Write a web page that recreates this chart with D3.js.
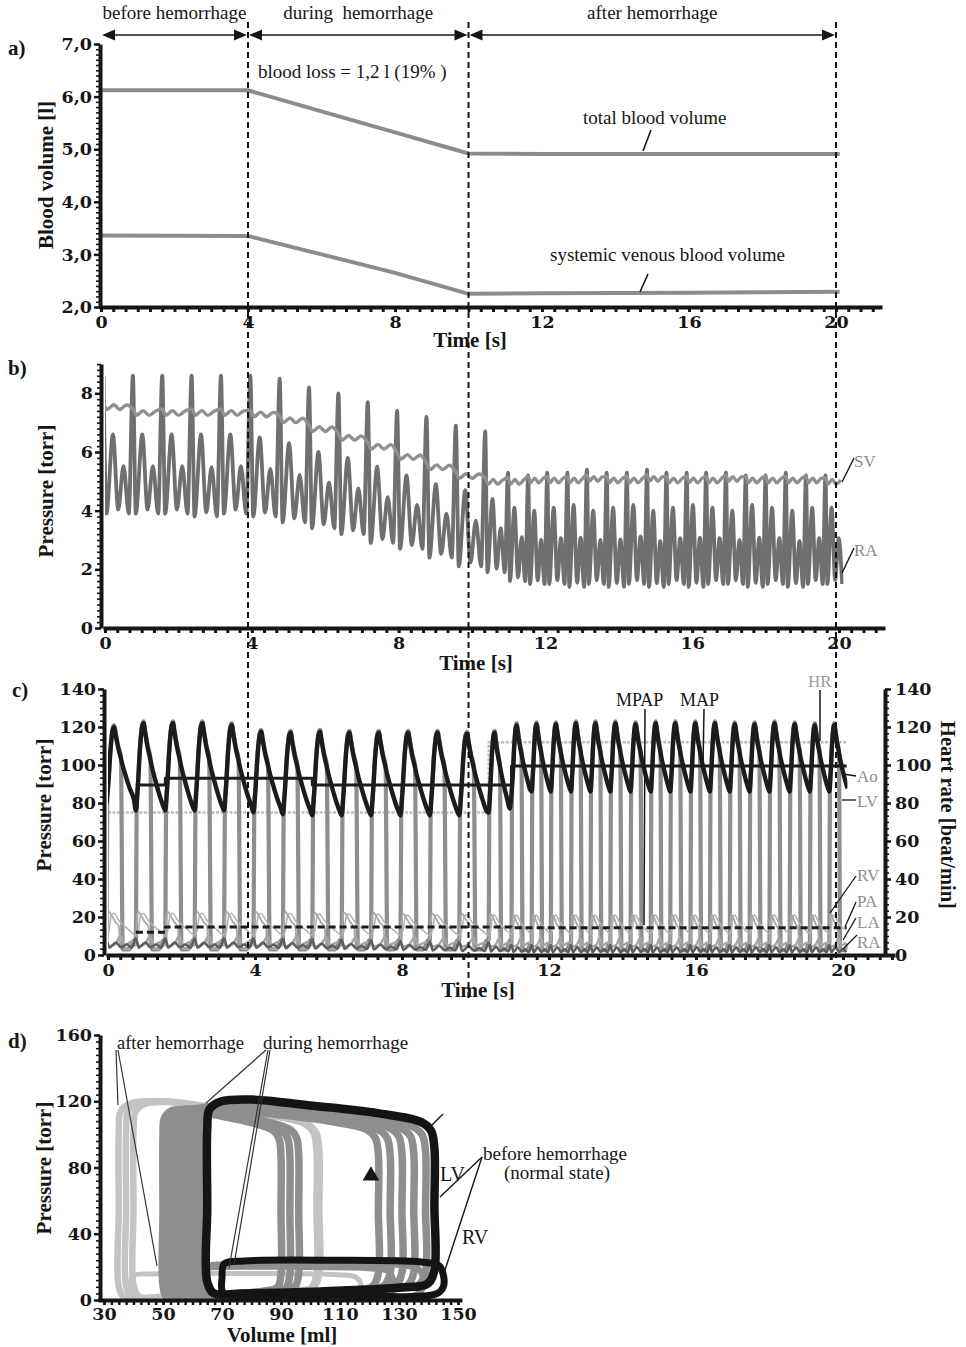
<!DOCTYPE html>
<html>
<head>
<meta charset="utf-8">
<script src="https://cdn.jsdelivr.net/npm/d3@7"></script>
<style>html,body{margin:0;padding:0;background:#fff;}svg{display:block;}</style>
</head>
<body>
<script>
// ======================= DATA =======================
const phaseBounds = [0, 4, 10, 20];
const phaseLabels = ["before hemorrhage", "during  hemorrhage", "after hemorrhage"];
const timeTicks = [0, 4, 8, 12, 16, 20];

// a) blood volume [l]
const volTime   = [0, 4, 6, 8, 10, 12, 16, 20.1];
const totalVol  = [6.12, 6.12, 5.72, 5.32, 4.92, 4.91, 4.91, 4.91];
const venousVol = [3.36, 3.35, 3.00, 2.65, 2.25, 2.26, 2.27, 2.29];
const volTicks  = [2, 3, 4, 5, 6, 7];

// beat onsets [s] (read from the RA spikes / aortic upstrokes)
const beatOnset = [-0.04, 0.76, 1.56, 2.36, 3.16, 3.96, 4.76, 5.56, 6.36, 7.16, 7.96, 8.76, 9.56,
  10.36, 10.98, 11.53, 12.05, 12.6, 13.13, 13.67, 14.22, 14.77, 15.3, 15.85, 16.38, 16.92, 17.46,
  18.0, 18.55, 19.1, 19.63];

// b) venous pressures [torr], per beat
const raSpike  = [8.6, 8.6, 8.6, 8.6, 8.6, 8.6, 8.5, 8.2, 8.0, 7.7, 7.4, 7.2, 6.9, 6.7,
  5.3, 5.2, 5.3, 5.3, 5.4, 5.3, 5.3, 5.4, 5.3, 5.3, 5.3, 5.3, 5.2, 5.2, 5.3, 5.2, 5.2];
const raHump   = [6.6, 6.6, 6.6, 6.6, 6.6, 6.5, 6.3, 6.0, 5.8, 5.5, 5.2, 4.9, 4.7, 4.4,
  4.1, 4.0, 4.1, 4.2, 4.0, 4.1, 4.2, 4.0, 4.1, 4.2, 4.1, 4.0, 4.2, 4.1, 4.0, 4.1, 4.1];
const raTrough = [3.9, 3.9, 3.9, 3.8, 3.9, 3.8, 3.6, 3.4, 3.2, 2.9, 2.7, 2.4, 2.1, 1.9,
  1.6, 1.5, 1.5, 1.4, 1.5, 1.4, 1.5, 1.4, 1.5, 1.4, 1.5, 1.5, 1.4, 1.5, 1.4, 1.5, 1.5];
const svMean   = [7.55, 7.35, 7.35, 7.35, 7.35, 7.3, 7.1, 6.8, 6.5, 6.2, 5.85, 5.5, 5.2, 5.0,
  5.0, 5.05, 5.05, 5.05, 5.1, 5.05, 5.05, 5.1, 5.05, 5.05, 5.05, 5.1, 5.05, 5.05, 5.05, 5.05, 5.0];
const bTicks = [0, 2, 4, 6, 8];

// c) arterial / cardiac pressures [torr], per beat
const aoPeak   = [120, 122, 122, 122, 121, 117.5, 117, 117.5, 117, 117, 117, 117, 116.5, 117,
  121, 121.5, 121.5, 122, 122, 122, 121.5, 122, 122, 122, 122, 121.5, 121.5, 122, 121.5, 121, 121];
const aoTrough = [80, 76, 76, 76, 76, 75, 74, 73.5, 73.5, 73.5, 73.5, 73.5, 73.5, 75,
  85, 86, 86, 86, 86, 86, 86, 86, 86, 86, 86, 86, 86, 86, 86, 86, 86];
const lvEdp    = [8, 8, 8, 8, 8, 8, 8, 8, 8, 8, 8, 8, 8, 8,
  6, 6, 6, 6, 6, 6, 6, 6, 6, 6, 6, 6, 6, 6, 6, 6, 6];
const lvMin    = [3, 3, 3, 3, 3, 3, 3, 3, 3, 3, 3, 3, 3, 3,
  2.5, 2.5, 2.5, 2.5, 2.5, 2.5, 2.5, 2.5, 2.5, 2.5, 2.5, 2.5, 2.5, 2.5, 2.5, 2.5, 2.5];
const rvPeak   = [23, 23, 23, 23, 23, 23, 23, 22.5, 22.5, 22.5, 22, 22, 22, 22,
  21.5, 21.5, 21.5, 21.5, 21.5, 21.5, 21.5, 21.5, 21.5, 21.5, 21.5, 21.5, 21.5, 21.5, 21.5, 21.5, 21.5];
const paPeak   = [22, 22, 22, 22, 22, 22, 22, 21.5, 21.5, 21.5, 21, 21, 21, 21,
  21, 21, 21, 21, 21, 21, 21, 21, 21, 21, 21, 21, 21, 21, 21, 21, 21];
const paLow    = [10.5, 10.5, 10.5, 10.5, 10.5, 10.5, 10.5, 10.5, 10.5, 10.5, 10.5, 10.5, 10.5, 10.5,
  11, 11, 11, 11, 11, 11, 11, 11, 11, 11, 11, 11, 11, 11, 11, 11, 11];
const laPeak   = [10, 10, 10, 10, 10, 10, 10, 9.5, 9.5, 9.5, 9.5, 9, 9, 9,
  9, 9, 9, 9, 9, 9, 9, 9, 9, 9, 9, 9, 9, 9, 9, 9, 9];
const hrTime = [0, 10.36, 20.1];
const hrVal  = [75, 112, 112];
const mapTime = [0.76, 1.56, 5.56, 10.98, 20.1];
const mapVal  = [89.5, 93, 89.5, 99.5, 99.5];
const mpapTime = [0.76, 1.56, 10.98, 20.1];
const mpapVal  = [12, 14.8, 14.3, 14.3];
const cTicks = [0, 20, 40, 60, 80, 100, 120, 140];

// within-beat shapes: [phase of beat, fraction between the beat's low and high value]
const aoShape = [[0, 0], [0.06, 0.25], [0.14, 0.72], [0.21, 0.96], [0.26, 1], [0.31, 0.9],
  [0.4, 0.72], [0.5, 0.57], [0.53, 0.52], [0.65, 0.36], [0.8, 0.18], [0.93, 0.05]];
const lvShape = [[0, "edp"], [0.025, "ao"], [0.06, "ao"], [0.14, "ao"], [0.21, "ao"], [0.26, "ao"],
  [0.31, "ao"], [0.4, "ao"], [0.49, "ao"], [0.55, "min"], [0.78, "min"], [0.95, "edp"]];
const raShape = [[0, "spike"], [0.1, 0], [0.32, 1], [0.5, 0.05], [0.68, 0.6], [0.86, 0]];
const svShape = [[0, 0.12], [0.12, -0.1], [0.35, 0.06], [0.55, -0.1], [0.78, 0.05]]; // offsets [torr]
const rvShape = [[0, 0.1], [0.02, 0.6], [0.06, 1], [0.3, 0.72], [0.42, 0.6], [0.47, 0.05], [0.8, 0], [0.95, 0.1]];
const paShape = [[0, 0], [0.08, 0.2], [0.16, 0.9], [0.24, 1], [0.46, 0.6], [0.5, 0.55], [0.75, 0.25]];
const laShape = [[0, 0.4], [0.1, 0.1], [0.3, 0.3], [0.48, 1], [0.6, 0.2], [0.85, 0.5]];

// d) pressure-volume loops
const lvLoopPhase = ["after", "after", "after", "during", "during", "during", "during", "during",
  "during", "during", "during", "before"];
const lvESV  = [35, 37.5, 40, 50, 51.5, 53, 55, 57, 59, 61, 63, 65];
const lvEDV  = [102, 102.5, 103, 90, 93, 96, 123, 127, 131, 135, 139, 142];
const lvPmax = [120, 120, 119.5, 115, 115, 115.5, 116, 116, 117, 117, 118, 121];
const lvPmin = [1, 1.5, 2, 2, 2, 2.5, 2.5, 3, 3, 3, 3.5, 4];
const rvLoopPhase = ["after", "during", "during", "before"];
const rvESV  = [39, 56, 64, 70];
const rvEDV  = [117, 128, 138, 145];
const rvPmax = [16, 20, 22, 24];
const rvPmin = [1, 1.5, 2, 2.5];
const lvLoopShape = [[0, 0.06], [0.03, 0], [0.15, 0], [0.5, 0.01], [0.85, 0.03], [0.97, 0.05], [1, 0.12],
  [1, 0.45], [1, 0.75], [0.985, 0.84], [0.94, 0.885], [0.75, 0.93], [0.45, 0.97], [0.2, 1], [0.06, 0.99],
  [0.01, 0.95], [0, 0.85], [0, 0.45]];
const rvLoopShape = [[0, 0.15], [0.02, 0], [0.5, 0.02], [0.97, 0.06], [1, 0.25], [1, 0.6], [0.98, 0.85],
  [0.9, 0.95], [0.5, 1], [0.1, 0.98], [0.01, 0.9], [0, 0.5]];
const volTicksD = [30, 50, 70, 90, 110, 130, 150];
const presTicksD = [0, 40, 80, 120, 160];

// ======================= SETUP =======================
const SERIF = "'Liberation Serif','Times New Roman',serif";
const TICKF = "'DejaVu Serif','Liberation Serif',serif";
const INK = "#161616";
const TFS = 17.5;
const svg = d3.select("body").append("svg").attr("width", 966).attr("height", 1347);

const xA = d3.scaleLinear().domain([0, 20]).range([101, 836]);
const yA = d3.scaleLinear().domain([2, 7]).range([307, 44]);
const xB = d3.scaleLinear().domain([0, 20]).range([105, 839]);
const yB = d3.scaleLinear().domain([0, 9]).range([628, 364]);
const xC = d3.scaleLinear().domain([0, 20]).range([108, 843]);
const yC = d3.scaleLinear().domain([0, 140]).range([955, 689]);
const xD = d3.scaleLinear().domain([30, 150]).range([104, 458]);
const yD = d3.scaleLinear().domain([0, 160]).range([1300, 1035]);

function txt(x, y, s, o = {}) {
  const t = svg.append("text").attr("x", x).attr("y", y).text(s)
    .attr("font-family", o.ff || SERIF).attr("font-size", o.fs || 19)
    .attr("font-weight", o.fw || "normal").attr("fill", o.fill || INK)
    .attr("text-anchor", o.anchor || "start").style("white-space", "pre");
  if (o.rot) t.attr("transform", `rotate(${o.rot},${x},${y})`);
  return t;
}
function seg(x1, y1, x2, y2, c = INK, w = 1.5) {
  svg.append("line").attr("x1", x1).attr("y1", y1).attr("x2", x2).attr("y2", y2)
    .attr("stroke", c).attr("stroke-width", w);
}
function styleAxis(a, fs = TFS) {
  a.select(".domain").attr("stroke", INK).attr("stroke-width", 4);
  a.selectAll(".tick line").attr("stroke", INK).attr("stroke-width", 2.5);
  a.selectAll(".tick text").attr("font-family", TICKF).attr("font-weight", "bold")
    .attr("font-size", fs).attr("fill", INK);
}
function xAxis(xs, yPos, xEnd, ticks, step, fmt) {
  const d0 = xs.domain()[0];
  const ext = xs.copy().domain([xs.invert(xs(d0) - 2), xs.invert(xEnd)]).range([xs(d0) - 2, xEnd]);
  const minor = d3.range(d0, xs.invert(xEnd), step);
  const gm = svg.append("g").attr("transform", `translate(0,${yPos})`)
    .call(d3.axisBottom(ext).tickValues(minor).tickFormat("").tickSize(5).tickSizeOuter(0));
  styleAxis(gm);
  gm.selectAll(".tick line").attr("stroke-width", 3);
  const g = svg.append("g").attr("transform", `translate(0,${yPos})`)
    .call(d3.axisBottom(xs).tickValues(ticks).tickFormat(fmt || (d => d)).tickSize(5).tickSizeOuter(0).tickPadding(4));
  styleAxis(g);
  g.select(".domain").remove();
}
function yAxis(ys, xPos, ticks, step, fmt, right = false) {
  const dom = ys.domain();
  const minor = d3.range(dom[0], dom[1] + 1e-6, step);
  const mk = right ? d3.axisRight : d3.axisLeft;
  const gm = svg.append("g").attr("transform", `translate(${xPos},0)`)
    .call(mk(ys).tickValues(minor).tickFormat("").tickSize(4).tickSizeOuter(0));
  styleAxis(gm);
  gm.selectAll(".tick line").attr("stroke-width", 1.6);
  const g = svg.append("g").attr("transform", `translate(${xPos},0)`)
    .call(mk(ys).tickValues(ticks).tickFormat(fmt || (d => d)).tickSize(6).tickSizeOuter(0).tickPadding(right ? 4 : 2));
  styleAxis(g);
  g.select(".domain").remove();
}
function clipRect(id, x0, x1) {
  svg.append("clipPath").attr("id", id).append("rect").attr("x", x0).attr("y", 0).attr("width", x1 - x0).attr("height", 1347);
  return `url(#${id})`;
}
function beatSeries(shapeFn) {
  const pts = [];
  beatOnset.forEach((t0, i) => {
    const tNext = i < beatOnset.length - 1 ? beatOnset[i + 1] : 2 * beatOnset[i] - beatOnset[i - 1];
    const T = tNext - t0;
    shapeFn(i).forEach(([ph, v]) => pts.push([t0 + ph * T, v]));
  });
  return pts;
}
const aoFrac = d3.scaleLinear().domain(aoShape.map(d => d[0])).range(aoShape.map(d => d[1]));
const aoSeries = beatSeries(i => aoShape.map(([p, f]) => [p, aoTrough[i] + f * (aoPeak[i] - aoTrough[i])]));
const lvSeries = beatSeries(i => lvShape.map(([p, k]) => [p,
  k === "edp" ? lvEdp[i] : k === "min" ? lvMin[i] : aoTrough[i] + aoFrac(p) * (aoPeak[i] - aoTrough[i]) + 1]));
const raSeries = beatSeries(i => raShape.map(([p, k]) => [p,
  k === "spike" ? raSpike[i] : raTrough[i] + k * (raHump[i] - raTrough[i])]));
const svSeries = beatSeries(i => svShape.map(([p, o]) => [p, svMean[i] + o]));
const rvSeries = beatSeries(i => rvShape.map(([p, f]) => [p, lvMin[i] + f * (rvPeak[i] - lvMin[i])]));
const paSeries = beatSeries(i => paShape.map(([p, f]) => [p, paLow[i] + f * (paPeak[i] - paLow[i])]));
const laSeries = beatSeries(i => laShape.map(([p, f]) => [p, 4 + f * (laPeak[i] - 4)]));

// ======================= HEADER =======================
phaseLabels.forEach((lab, i) => {
  const x0 = xA(phaseBounds[i]), x1 = xA(phaseBounds[i + 1]);
  txt((x0 + x1) / 2, 19, lab, { anchor: "middle", fs: 19 });
  seg(x0 + 4, 35, x1 - 4, 35, INK, 1.6);
  svg.append("path").attr("d", `M${x0 + 1},35 L${x0 + 14},29.5 L${x0 + 14},40.5Z`).attr("fill", INK);
  svg.append("path").attr("d", `M${x1 - 1},35 L${x1 - 14},29.5 L${x1 - 14},40.5Z`).attr("fill", INK);
});

// ======================= PANEL A =======================
txt(8, 55, "a)", { fw: "bold", fs: 21 });
const lineA = d3.line().x((d, i) => xA(volTime[i])).y(d => yA(d));
svg.append("path").attr("d", lineA(totalVol)).attr("fill", "none").attr("stroke", "#8b8b8b").attr("stroke-width", 4);
svg.append("path").attr("d", lineA(venousVol)).attr("fill", "none").attr("stroke", "#8b8b8b").attr("stroke-width", 4);
yAxis(yA, 100, volTicks, 0.1, d => d.toFixed(1).replace(".", ","));
xAxis(xA, 307, 882, timeTicks, 1 / 3);
txt(53, 175, "Blood volume [l]", { fw: "bold", fs: 21, anchor: "middle", rot: -90 });
txt(470, 347, "Time [s]", { fw: "bold", fs: 21, anchor: "middle" });
txt(258, 78, "blood loss = 1,2 l (19% )", { fs: 19 });
txt(583, 124, "total blood volume", { fs: 19 });
seg(651, 130, 643, 151, INK, 1.6);
txt(550, 261, "systemic venous blood volume", { fs: 19 });
seg(648, 274, 640, 292, INK, 1.6);

// ======================= PANEL B =======================
txt(8, 375, "b)", { fw: "bold", fs: 21 });
const clipB = clipRect("cb", xB(0), xB(20.12));
const lineB = d3.line().x(d => xB(d[0])).y(d => yB(d[1])).curve(d3.curveMonotoneX);
svg.append("path").attr("d", lineB(raSeries)).attr("clip-path", clipB).attr("fill", "none")
  .attr("stroke", "#6f6f6f").attr("stroke-width", 3.8).attr("stroke-linejoin", "round");
svg.append("path").attr("d", lineB(svSeries)).attr("clip-path", clipB).attr("fill", "none")
  .attr("stroke", "#8f8f8f").attr("stroke-width", 3.4).attr("stroke-linejoin", "round");
yAxis(yB, 101, bTicks, 0.2);
xAxis(xB, 628, 885, timeTicks, 1 / 3);
txt(53, 491, "Pressure [torr]", { fw: "bold", fs: 21, anchor: "middle", rot: -90 });
txt(476, 670, "Time [s]", { fw: "bold", fs: 21, anchor: "middle" });
txt(854, 467, "SV", { fs: 17, fill: "#8a8a8a" });
seg(842, 482, 854, 458, INK, 1.4);
txt(854, 556, "RA", { fs: 17, fill: "#8a8a8a" });
seg(842, 573, 854, 548, INK, 1.4);

// ======================= PANEL C =======================
txt(12, 697, "c)", { fw: "bold", fs: 21 });
const clipC = clipRect("cc", xC(0), xC(20.12));
const lineC = d3.line().x(d => xC(d[0])).y(d => yC(d[1])).curve(d3.curveMonotoneX);
const stepC = d3.line().x(d => xC(d[0])).y(d => yC(d[1])).curve(d3.curveStepAfter);
function drawC(series, color, w, gen = lineC, dash = null) {
  const p = svg.append("path").attr("d", gen(series)).attr("clip-path", clipC).attr("fill", "none")
    .attr("stroke", color).attr("stroke-width", w).attr("stroke-linejoin", "round");
  if (dash) p.attr("stroke-dasharray", dash);
}
drawC(hrTime.map((t, i) => [t, hrVal[i]]), "#bdbdbd", 2.6, stepC, "3,1.5");
drawC(lvSeries, "#8e8e8e", 4.2);
drawC(paSeries, "#b5b5b5", 1.6);
drawC(rvSeries, "#a8a8a8", 1.8);
drawC(laSeries, "#a5a5a5", 2.4);
drawC(raSeries, "#5e5e5e", 2.6);
drawC(aoSeries, "#1c1c1c", 4.4);
drawC(mapTime.map((t, i) => [t, mapVal[i]]), "#1c1c1c", 3, stepC);
drawC(mpapTime.map((t, i) => [t, mpapVal[i]]), "#1c1c1c", 3, stepC, "7,4");
yAxis(yC, 104, cTicks, 10 / 3);
yAxis(yC, 885, cTicks, 10 / 3, null, true);
xAxis(xC, 955, 895, timeTicks, 1 / 3);
txt(51, 805, "Pressure [torr]", { fw: "bold", fs: 21, anchor: "middle", rot: -90 });
txt(941, 815, "Heart rate [beat/min]", { fw: "bold", fs: 20.5, anchor: "middle", rot: 90 });
txt(478, 997, "Time [s]", { fw: "bold", fs: 21, anchor: "middle" });
txt(616, 706, "MPAP", { fs: 18 });
seg(645, 709, 644, 925, INK, 1.5);
txt(680, 706, "MAP", { fs: 18 });
seg(704, 709, 703, 766, INK, 1.5);
txt(808, 687, "HR", { fs: 17, fill: "#9a9a9a" });
seg(820, 690, 820, 741, INK, 1.5);
const cLabels = [["Ao", 782, 843, 774, 856, 776], ["LV", 807, 842, 800, 856, 800], ["RV", 881, 830, 913, 856, 876],
  ["PA", 907, 845, 927, 856, 902], ["LA", 928, 843, 940, 856, 918], ["RA", 948, 843, 949, 857, 935]];
cLabels.forEach(([s, y, x1, y1, x2, y2]) => {
  txt(857, y, s, { fs: 17, fill: "#8f8f8f" });
  seg(x1, y1, x2, y2, INK, 1.3);
});

// ======================= PANEL D =======================
txt(8, 1048, "d)", { fw: "bold", fs: 21 });
const loopColor = { after: "#c3c3c3", during: "#8e8e8e", before: "#141414" };
const loopWidth = { after: 6.5, during: 7.5, before: 8.5 };
const loopLine = d3.line().x(d => xD(d[0])).y(d => yD(d[1])).curve(d3.curveCatmullRomClosed.alpha(0.5));
function drawLoops(phases, esv, edv, pmax, pmin, shape, which) {
  phases.forEach((ph, i) => {
    if (ph !== which) return;
    const pts = shape.map(([u, w]) => [esv[i] + u * (edv[i] - esv[i]), pmin[i] + w * (pmax[i] - pmin[i])]);
    svg.append("path").attr("d", loopLine(pts)).attr("fill", "none")
      .attr("stroke", loopColor[ph]).attr("stroke-width", loopWidth[ph] - (shape === rvLoopShape ? 1.5 : 0));
  });
}
["after", "during", "before"].forEach(ph => {
  drawLoops(lvLoopPhase, lvESV, lvEDV, lvPmax, lvPmin, lvLoopShape, ph);
  drawLoops(rvLoopPhase, rvESV, rvEDV, rvPmax, rvPmin, rvLoopShape, ph);
});
svg.append("path").attr("d", d3.symbol(d3.symbolTriangle).size(120)())
  .attr("transform", `translate(${xD(120.5)},${yD(75)})`).attr("fill", INK);
yAxis(yD, 100, presTicksD, 4);
{
  const ext = xD.copy().domain([xD.invert(98), xD.invert(462)]).range([98, 462]);
  const gm = svg.append("g").attr("transform", "translate(0,1300)")
    .call(d3.axisBottom(ext).tickValues(d3.range(30, 151, 2.5)).tickFormat("").tickSize(5).tickSizeOuter(0));
  styleAxis(gm);
  gm.selectAll(".tick line").attr("stroke-width", 2.5);
  const g = svg.append("g").attr("transform", "translate(0,1300)")
    .call(d3.axisBottom(xD).tickValues(volTicksD).tickSize(5).tickSizeOuter(0).tickPadding(3));
  styleAxis(g);
  g.select(".domain").remove();
}
txt(51, 1168, "Pressure [torr]", { fw: "bold", fs: 21, anchor: "middle", rot: -90 });
txt(282, 1342, "Volume [ml]", { fw: "bold", fs: 21, anchor: "middle" });
txt(117, 1049, "after hemorrhage", { fs: 18.5 });
seg(116, 1050, 118, 1105, "#333", 1.2);
seg(118, 1050, 157, 1266, "#333", 1.2);
txt(263, 1049, "during hemorrhage", { fs: 19 });
seg(266, 1050, 206, 1103, "#333", 1.2);
seg(268, 1050, 229, 1268, "#333", 1.2);
seg(270, 1050, 234, 1265, "#333", 1.2);
txt(483, 1160, "before hemorrhage", { fs: 19 });
txt(557, 1179, "(normal state)", { fs: 19, anchor: "middle" });
seg(482, 1157, 440, 1197, INK, 1.4);
seg(482, 1157, 444, 1273, INK, 1.4);
seg(427, 1130, 443, 1114, INK, 1.4);
txt(440, 1181, "LV", { fs: 20 });
txt(462, 1244, "RV", { fs: 20 });

// ======================= PHASE DIVIDERS =======================
[[4, 955], [10, 1000], [20, 958]].forEach(([t, yEnd]) => {
  svg.append("line").attr("x1", xA(t)).attr("x2", xA(t)).attr("y1", 22).attr("y2", yEnd)
    .attr("stroke", INK).attr("stroke-width", 2).attr("stroke-dasharray", "6,4");
});
</script>
</body>
</html>
